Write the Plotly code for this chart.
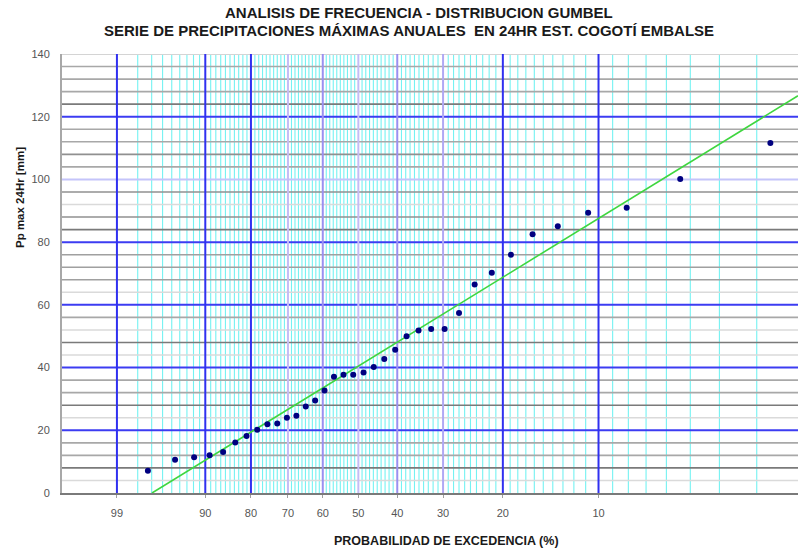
import math
import plotly.graph_objects as go

# ---------------- data ----------------
EXCEEDANCE_PCT = [2.7, 5.4, 8.1, 10.8, 13.5, 16.2, 18.9, 21.6, 24.3, 27.0, 29.7, 32.4,
                  35.1, 37.8, 40.5, 43.2, 45.9, 48.6, 51.4, 54.1, 56.8, 59.5, 62.2, 64.9,
                  67.6, 70.3, 73.0, 75.7, 78.4, 81.1, 83.8, 86.5, 89.2, 91.9, 94.6, 97.3]
PP_MAX_MM = [111.6, 100.1, 91.0, 89.4, 85.1, 82.5, 76.0, 70.2, 66.5, 57.4, 52.3, 52.3,
             51.8, 50.0, 45.7, 42.7, 40.2, 38.4, 37.7, 37.7, 37.1, 32.7, 29.5, 27.6,
             24.6, 24.0, 22.2, 21.9, 20.2, 18.2, 16.1, 13.1, 12.0, 11.4, 10.6, 7.1]

# Gumbel fitted line parameters (location, scale)
GUMBEL_U = 31.3
GUMBEL_ALPHA = 25.0

X_TICK_PCT = [99, 90, 80, 70, 60, 50, 40, 30, 20, 10]
X_TICK_TEXT = ["99", "90", "80", "70", "60", "50", "40", "30", "20", "10"]
Y_TICKS = [0, 20, 40, 60, 80, 100, 120, 140]

MINOR_PCT = ([98, 97, 96, 95, 94, 93, 92, 91] + list(range(89, 80, -1)) +
             list(range(79, 70, -1)) + list(range(69, 60, -1)) + list(range(59, 50, -1)) +
             list(range(49, 40, -1)) + list(range(39, 30, -1)) + list(range(29, 20, -1)) +
             list(range(19, 10, -1)) + [9, 8, 7, 6, 5, 4, 3])

H_MINOR = [4, 8, 12, 16, 24, 28, 32, 36, 44, 48, 52, 56, 64, 68, 72, 76,
           84, 88, 92, 96, 104, 108, 112, 116, 124, 128, 132, 136]
H_MINOR_SHADE = ["#DADADA", "#7A7A7A", "#A8A8A8", "#A8A8A8", "#DADADA", "#7A7A7A", "#A8A8A8", "#A8A8A8",
                 "#DADADA", "#7A7A7A", "#DADADA", "#A8A8A8", "#DADADA", "#A0A0A0", "#A0A0A0", "#A0A0A0",
                 "#7A7A7A", "#909090", "#DADADA", "#909090", "#A8A8A8", "#909090", "#A8A8A8", "#A8A8A8",
                 "#7A7A7A", "#A8A8A8", "#A8A8A8", "#A8A8A8"]

X_RANGE = [-1.958, 3.815]
Y_RANGE = [0, 140]


def yr(p):
    """Gumbel reduced variate for an exceedance probability in %."""
    return -math.log(-math.log(1 - p / 100.0))


xs = [yr(p) for p in EXCEEDANCE_PCT]

fig = go.Figure()

shapes = []
# minor vertical cyan lines
for p in MINOR_PCT:
    shapes.append(dict(type="line", xref="x", yref="y", x0=yr(p), x1=yr(p), y0=0, y1=140,
                       line=dict(color="#74F2F2", width=1.1), layer="below"))
# minor horizontal gray lines
for v, c in zip(H_MINOR, H_MINOR_SHADE):
    shapes.append(dict(type="line", xref="x", yref="y", x0=X_RANGE[0], x1=X_RANGE[1], y0=v, y1=v,
                       line=dict(color=c, width=1.6), layer="below"))
# major horizontal lines
for v in [20, 40, 60, 80, 120]:
    shapes.append(dict(type="line", xref="x", yref="y", x0=X_RANGE[0], x1=X_RANGE[1], y0=v, y1=v,
                       line=dict(color="#3C3CF2", width=2), layer="below"))
shapes.append(dict(type="line", xref="x", yref="y", x0=X_RANGE[0], x1=X_RANGE[1], y0=100, y1=100,
                   line=dict(color="#C4C4FA", width=2), layer="below"))
shapes.append(dict(type="line", xref="x", yref="y", x0=X_RANGE[0], x1=X_RANGE[1], y0=140, y1=140,
                   line=dict(color="#D4D4D4", width=2), layer="below"))
# major vertical lines
major_col = {99: "#3030F0", 90: "#3030F0", 80: "#3030F0", 70: "#C4BCF6", 60: "#9A90F0",
             50: "#C4BCF6", 40: "#9A90F0", 30: "#B0A8F4", 20: "#3030F0", 10: "#3030F0"}
for p in X_TICK_PCT:
    shapes.append(dict(type="line", xref="x", yref="y", x0=yr(p), x1=yr(p), y0=0, y1=140,
                       line=dict(color=major_col[p], width=2), layer="below"))

# fitted Gumbel line
x_line0 = (0 - GUMBEL_U) / GUMBEL_ALPHA
x_line = [x_line0, X_RANGE[1]]
y_line = [GUMBEL_U + GUMBEL_ALPHA * x for x in x_line]
fig.add_trace(go.Scatter(x=x_line, y=y_line, mode="lines",
                         line=dict(color="#3FD63F", width=1.6), showlegend=False,
                         hoverinfo="skip"))

fig.add_trace(go.Scatter(x=xs, y=PP_MAX_MM, mode="markers",
                         marker=dict(color="#000080", size=6), showlegend=False))

FONT = "Liberation Sans, Arial, sans-serif"

fig.update_layout(
    width=798, height=550,
    margin=dict(l=62, r=0, t=54, b=57),
    paper_bgcolor="white", plot_bgcolor="white",
    shapes=shapes,
    showlegend=False,
    xaxis=dict(range=X_RANGE, tickvals=[yr(p) for p in X_TICK_PCT], ticktext=X_TICK_TEXT,
               showgrid=False, zeroline=False, showline=True, linecolor="#7A7A7A", linewidth=2,
               ticks="outside", ticklen=3, tickcolor="#A0A0A0",
               tickfont=dict(family=FONT, size=11, color="#555555"), ticklabelstandoff=6),
    yaxis=dict(range=Y_RANGE, tickvals=Y_TICKS, showgrid=False, zeroline=False,
               showline=True, linecolor="#A8A8A8", linewidth=2, ticks="",
               tickfont=dict(family=FONT, size=11, color="#555555"), ticklabelstandoff=8),
    annotations=[
        dict(text="<b>ANALISIS DE FRECUENCIA - DISTRIBUCION GUMBEL</b>", xref="paper", yref="paper",
             x=(419 - 62) / 736, y=1 + (54 - 13) / 439, xanchor="center", yanchor="middle",
             showarrow=False, font=dict(family=FONT, size=15, color="#1a1a1a")),
        dict(text="<b>SERIE DE PRECIPITACIONES MÁXIMAS ANUALES  EN 24HR EST. COGOTÍ EMBALSE</b>",
             xref="paper", yref="paper",
             x=(409 - 62) / 736, y=1 + (54 - 31) / 439, xanchor="center", yanchor="middle",
             showarrow=False, font=dict(family=FONT, size=15, color="#1a1a1a")),
        dict(text="<b>Pp max 24Hr [mm]</b>", xref="paper", yref="paper",
             x=(20 - 62) / 736, y=(493 - 198) / 439, xanchor="center", yanchor="middle",
             textangle=-90, showarrow=False, font=dict(family=FONT, size=11.5, color="#1a1a1a")),
        dict(text="<b>PROBABILIDAD DE EXCEDENCIA (%)</b>", xref="paper", yref="paper",
             x=(446 - 62) / 736, y=(493 - 541) / 439, xanchor="center", yanchor="middle",
             showarrow=False, font=dict(family=FONT, size=12.5, color="#1a1a1a")),
    ],
)

fig.write_html("out.html", config={"displayModeBar": False},
               post_script="document.body.style.margin='0';document.body.style.overflow='hidden';")
